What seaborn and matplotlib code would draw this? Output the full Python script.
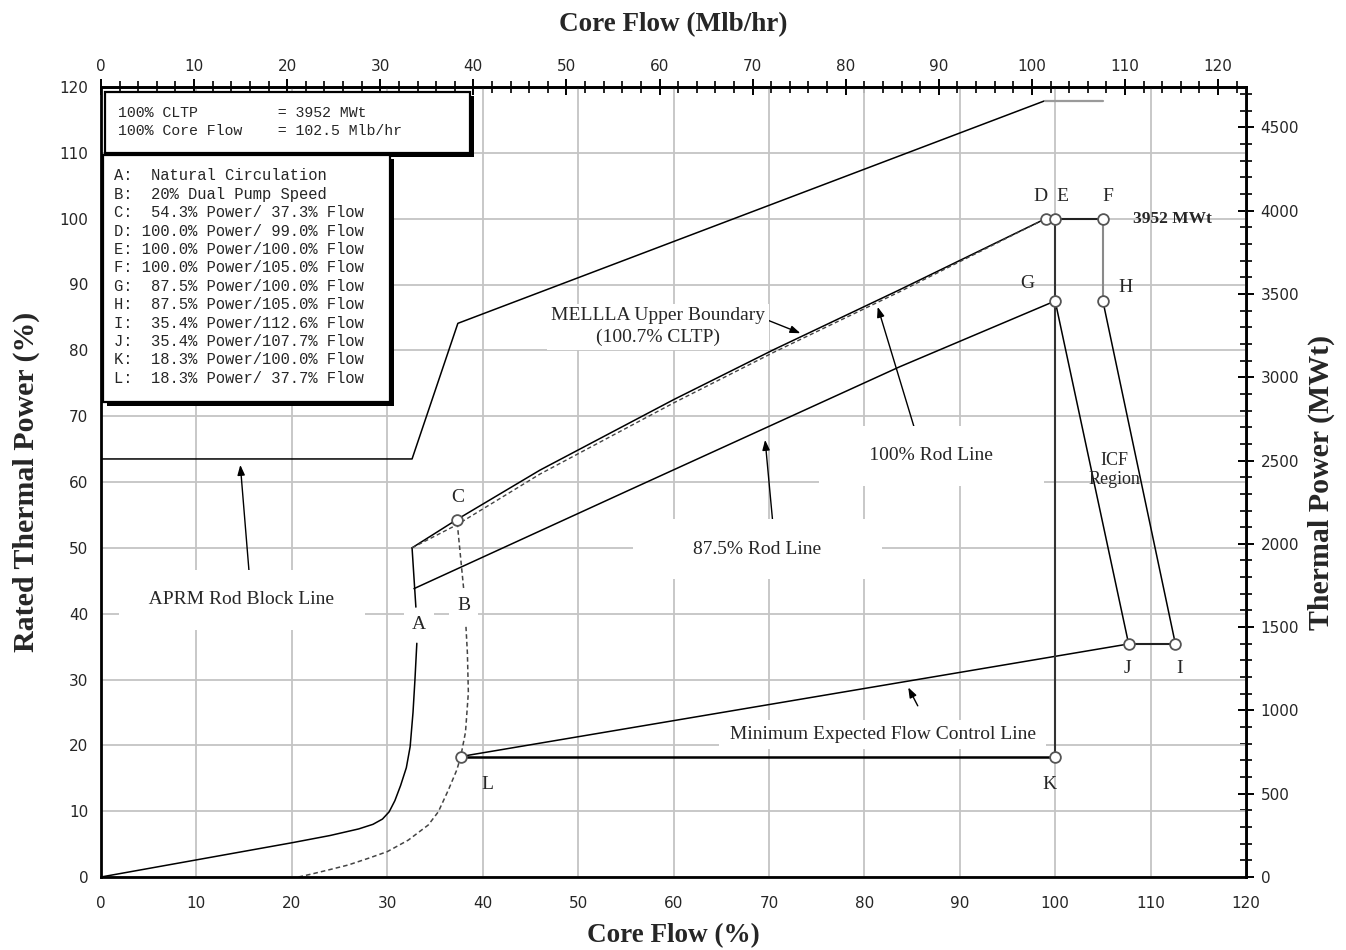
import numpy as np
import pandas as pd
import matplotlib
matplotlib.use("Agg")
import matplotlib.pyplot as plt
from matplotlib.ticker import MultipleLocator, FixedLocator
from matplotlib.patches import Rectangle
import seaborn as sns

# ---------------- data (Core flow %, Rated thermal power %) ----------------
nat_circ_flow = [0, 10, 20, 24, 27, 28.5, 29.5, 30.2, 30.8, 31.4, 32.0, 32.4, 32.7, 32.9, 33.1]
nat_circ_power = [0, 2.6, 5.2, 6.3, 7.3, 8.0, 8.8, 9.9, 11.6, 13.9, 16.6, 19.8, 25.0, 29.9, 35.5]

a_line_flow = [33.0, 32.6]
a_line_power = [41.0, 50.0]

dual_pump_flow = [20.7, 22.1, 23.8, 25.9, 28.0, 30.0, 32.2, 34.3, 35.35, 36.4, 37.3, 37.7, 38.2, 38.5, 38.4, 38.25]
dual_pump_power = [0.0, 0.46, 1.06, 1.82, 2.83, 3.85, 5.6, 7.9, 9.9, 13.2, 16.3, 18.3, 22.0, 28.0, 34.0, 38.0]
dual_pump_upper_flow = [38.0, 37.3]
dual_pump_upper_power = [43.9, 54.3]

mellla_flow = [32.6, 37.3, 46.0, 60.0, 70.5, 83.7, 99.0]
mellla_power = [50.0, 54.3, 61.8, 72.5, 80.1, 89.2, 100.0]

rod100_flow = [32.6, 37.3, 46.0, 60.0, 70.5, 83.7, 99.0]
rod100_power = [50.0, 53.5, 61.2, 72.0, 79.7, 88.9, 100.0]

rod875_flow = [32.8, 55.4, 83.7, 100.0]
rod875_power = [43.8, 58.8, 77.5, 87.5]

aprm_flow = [0, 32.6, 37.4, 98.9]
aprm_power = [63.5, 63.5, 84.1, 117.9]
aprm_flat_flow = [98.9, 105.0]
aprm_flat_power = [117.9, 117.9]

mefcl_flow = [37.7, 107.7]
mefcl_power = [18.3, 35.4]

point_names = ["C", "D", "E", "F", "G", "H", "I", "J", "K", "L"]
point_flow = [37.3, 99.0, 100.0, 105.0, 100.0, 105.0, 112.6, 107.7, 100.0, 37.7]
point_power = [54.3, 100.0, 100.0, 100.0, 87.5, 87.5, 35.4, 35.4, 18.3, 18.3]

legend_top = ["100% CLTP         = 3952 MWt",
              "100% Core Flow    = 102.5 Mlb/hr"]
legend_points = ["A:  Natural Circulation",
                 "B:  20% Dual Pump Speed",
                 "C:  54.3% Power/ 37.3% Flow",
                 "D: 100.0% Power/ 99.0% Flow",
                 "E: 100.0% Power/100.0% Flow",
                 "F: 100.0% Power/105.0% Flow",
                 "G:  87.5% Power/100.0% Flow",
                 "H:  87.5% Power/105.0% Flow",
                 "I:  35.4% Power/112.6% Flow",
                 "J:  35.4% Power/107.7% Flow",
                 "K:  18.3% Power/100.0% Flow",
                 "L:  18.3% Power/ 37.7% Flow"]

flow_ticks = list(range(0, 121, 10))
power_ticks = list(range(0, 121, 10))
mlb_ticks = list(range(0, 121, 10))
mwt_ticks = list(range(0, 4501, 500))

CLTP_MWT = 3952.0
FLOW_MLB = 102.5

pt = dict(zip(point_names, zip(point_flow, point_power)))

# ---------------- style ----------------
sns.set_style("white")
plt.rcParams["font.family"] = ["DejaVu Sans"]
SERIF = ["Liberation Serif", "DejaVu Serif"]
MONO = ["Liberation Mono", "DejaVu Sans Mono"]

fig = plt.figure(figsize=(13.46, 9.50), dpi=100)
ax = fig.add_axes([101 / 1346, 1 - 877 / 950, 1145 / 1346, 790 / 950])
ax.set_xlim(0, 120)
ax.set_ylim(0, 120)

ax.xaxis.set_major_locator(FixedLocator(flow_ticks))
ax.xaxis.set_minor_locator(MultipleLocator(2))
ax.yaxis.set_major_locator(FixedLocator(power_ticks))
ax.yaxis.set_minor_locator(MultipleLocator(2))
ax.grid(True, which="major", color="#c4c4c4", linewidth=1.3, zorder=0)
ax.set_axisbelow(True)


def line(xs, ys, color="black", lw=1.0, ls="-", z=3):
    df = pd.DataFrame({"flow": xs, "power": ys})
    sns.lineplot(data=df, x="flow", y="power", sort=False, estimator=None,
                 color=color, linewidth=lw, linestyle=ls, ax=ax, zorder=z)


line(nat_circ_flow, nat_circ_power, lw=1.1)
line(a_line_flow, a_line_power, lw=1.1)
line(dual_pump_flow, dual_pump_power, color="#444444", lw=1.1, ls=(0, (3, 2)))
line(dual_pump_upper_flow, dual_pump_upper_power, color="#444444", lw=1.1, ls=(0, (3, 2)))
line(mellla_flow, mellla_power, lw=1.1)
line(rod100_flow, rod100_power, color="#444444", lw=1.0, ls=(0, (3, 2)))
line(rod875_flow, rod875_power, lw=1.1)
line(aprm_flow, aprm_power, lw=1.1)
line(aprm_flat_flow, aprm_flat_power, color="#9a9a9a", lw=1.6)
line(mefcl_flow, mefcl_power, lw=1.1)

# operating domain boundary
line([pt["E"][0], pt["K"][0]], [pt["E"][1], pt["K"][1]], color="#333333", lw=1.5)
line([pt["E"][0], pt["F"][0]], [pt["E"][1], pt["F"][1]], color="#222222", lw=1.5)
line([pt["F"][0], pt["H"][0]], [pt["F"][1], pt["H"][1]], color="#8a8a8a", lw=1.5)
line([pt["G"][0], pt["J"][0]], [pt["G"][1], pt["J"][1]], lw=1.1)
line([pt["H"][0], pt["I"][0]], [pt["H"][1], pt["I"][1]], lw=1.1)
line([pt["J"][0], pt["I"][0]], [pt["J"][1], pt["I"][1]], color="#222222", lw=1.5)
line([pt["L"][0], pt["K"][0]], [pt["L"][1], pt["K"][1]], color="black", lw=1.8)

pts = pd.DataFrame({"flow": point_flow, "power": point_power})
sns.scatterplot(data=pts, x="flow", y="power", s=60, facecolor="white",
                edgecolor="#555555", linewidth=1.3, ax=ax, zorder=6)

# ---------------- point letters ----------------
letter_pos = {"C": (37.4, 57.7), "D": (98.5, 103.4), "E": (100.8, 103.4),
              "F": (105.5, 103.4), "G": (97.1, 90.2), "H": (107.4, 89.6),
              "I": (113.0, 31.7), "J": (107.6, 31.7), "K": (99.4, 14.0),
              "L": (40.5, 14.0)}
for name in point_names:
    x, y = letter_pos[name]
    ax.text(x, y, name, family=SERIF, fontsize=14, ha="center", va="center", zorder=7)

box_w = dict(boxstyle="square,pad=0.4", fc="white", ec="none")
ax.text(33.3, 38.3, "A", family=SERIF, fontsize=14, ha="center", va="center", bbox=box_w, zorder=7)
ax.text(38.0, 41.3, "B", family=SERIF, fontsize=14, ha="center", va="center", bbox=box_w, zorder=7)

ax.text(112.3, 100.0, "3952 MWt", family=SERIF, fontsize=12.5, fontweight="bold",
        ha="center", va="center", zorder=7)

# ---------------- annotations ----------------
arrow = dict(arrowstyle="-|>,head_length=0.6,head_width=0.22", color="black", lw=1.0,
             shrinkA=0, shrinkB=0)
ann_font = dict(family=SERIF, fontsize=14, ha="center", va="center", zorder=8)

ax.annotate("", xy=(73.3, 82.6), xytext=(69.5, 84.8), arrowprops=arrow, zorder=8)
ax.text(58.4, 83.6, "MELLLA Upper Boundary\n(100.7% CLTP)", linespacing=1.3,
        bbox=dict(boxstyle="square,pad=0.2", fc="white", ec="none"), **ann_font)

ax.annotate("", xy=(81.4, 86.6), xytext=(85.6, 66.5), arrowprops=arrow, zorder=8)
ax.text(87.0, 64.0, "      100% Rod Line      ",
        bbox=dict(boxstyle="square,pad=1.1", fc="white", ec="none"), **ann_font)

ax.annotate("", xy=(69.6, 66.4), xytext=(70.4, 53.9), arrowprops=arrow, zorder=8)
ax.text(68.8, 49.8, "        87.5% Rod Line        ",
        bbox=dict(boxstyle="square,pad=1.1", fc="white", ec="none"), **ann_font)

ax.annotate("", xy=(14.6, 62.6), xytext=(15.6, 44.9), arrowprops=arrow, zorder=8)
ax.text(14.8, 42.1, "  APRM Rod Block Line  ",
        bbox=dict(boxstyle="square,pad=1.1", fc="white", ec="none"), **ann_font)

ax.annotate("", xy=(84.6, 28.8), xytext=(85.6, 26.0), arrowprops=arrow, zorder=8)
ax.text(81.9, 21.6, " Minimum Expected Flow Control Line ",
        bbox=dict(boxstyle="square,pad=0.3", fc="white", ec="none"), **ann_font)

ax.text(106.2, 61.8, "ICF\nRegion", family=SERIF, fontsize=13, ha="center",
        va="center", linespacing=1.1, zorder=8)

# ---------------- legend boxes ----------------
def shadow_box(x0, y0, x1, y1):
    dx, dy = 4 / 1145, 4 / 790
    ax.add_patch(Rectangle((x0 + dx, y0 - dy), x1 - x0, y1 - y0, transform=ax.transAxes,
                           fc="black", ec="black", lw=0, zorder=9, clip_on=False))
    ax.add_patch(Rectangle((x0, y0), x1 - x0, y1 - y0, transform=ax.transAxes,
                           fc="white", ec="black", lw=1.6, zorder=10, clip_on=False))


shadow_box((105 - 101) / 1145, (877 - 153) / 790, (470 - 101) / 1145, (877 - 92) / 790)
shadow_box((103 - 101) / 1145, (877 - 402) / 790, (390 - 101) / 1145, (877 - 155) / 790)

for i, s in enumerate(legend_top):
    ax.text((118 - 101) / 1145, (877 - (113 + 18 * i)) / 790, s, transform=ax.transAxes,
            family=MONO, fontsize=10.7, ha="left", va="center", zorder=11)
for i, s in enumerate(legend_points):
    ax.text((114 - 101) / 1145, (877 - (176 + 18.4 * i)) / 790, s, transform=ax.transAxes,
            family=MONO, fontsize=11.2, ha="left", va="center", zorder=11)

# ---------------- axes, ticks ----------------
for sp in ax.spines.values():
    sp.set_linewidth(2.0)
    sp.set_color("black")
    sp.set_zorder(12)

tick_kw = dict(direction="inout", color="black", labelsize=11)
ax.tick_params(which="major", length=11, width=1.4, **tick_kw)
ax.tick_params(which="minor", length=8, width=1.2, direction="inout", color="black")
ax.tick_params(axis="x", which="major", pad=8)

ax.set_xlabel("Core Flow (%)", family=SERIF, fontsize=19.5, fontweight="bold", labelpad=9)
ax.set_ylabel("Rated Thermal Power (%)", family=SERIF, fontsize=21.5, fontweight="bold", labelpad=14)

top = ax.secondary_xaxis("top", functions=(lambda x: x * FLOW_MLB / 100, lambda x: x * 100 / FLOW_MLB))
top.xaxis.set_major_locator(FixedLocator(mlb_ticks))
top.xaxis.set_minor_locator(MultipleLocator(2))
top.tick_params(which="major", length=11, width=1.4, pad=4, **tick_kw)
top.tick_params(which="minor", length=8, width=1.2, direction="inout", color="black")
top.spines["top"].set_linewidth(2.0)
top.set_xlabel("Core Flow (Mlb/hr)", family=SERIF, fontsize=19.5, fontweight="bold", labelpad=20)

right = ax.secondary_yaxis("right", functions=(lambda y: y * CLTP_MWT / 100, lambda y: y * 100 / CLTP_MWT))
right.yaxis.set_major_locator(FixedLocator(mwt_ticks))
right.yaxis.set_minor_locator(MultipleLocator(100))
right.tick_params(which="major", length=11, width=1.4, pad=5, **tick_kw)
right.tick_params(which="minor", length=8, width=1.2, direction="inout", color="black")
right.spines["right"].set_linewidth(2.0)
right.set_ylabel("Thermal Power (MWt)", family=SERIF, fontsize=21.5, fontweight="bold", labelpad=6)

fig.savefig("out.png", dpi=100, facecolor="white")
